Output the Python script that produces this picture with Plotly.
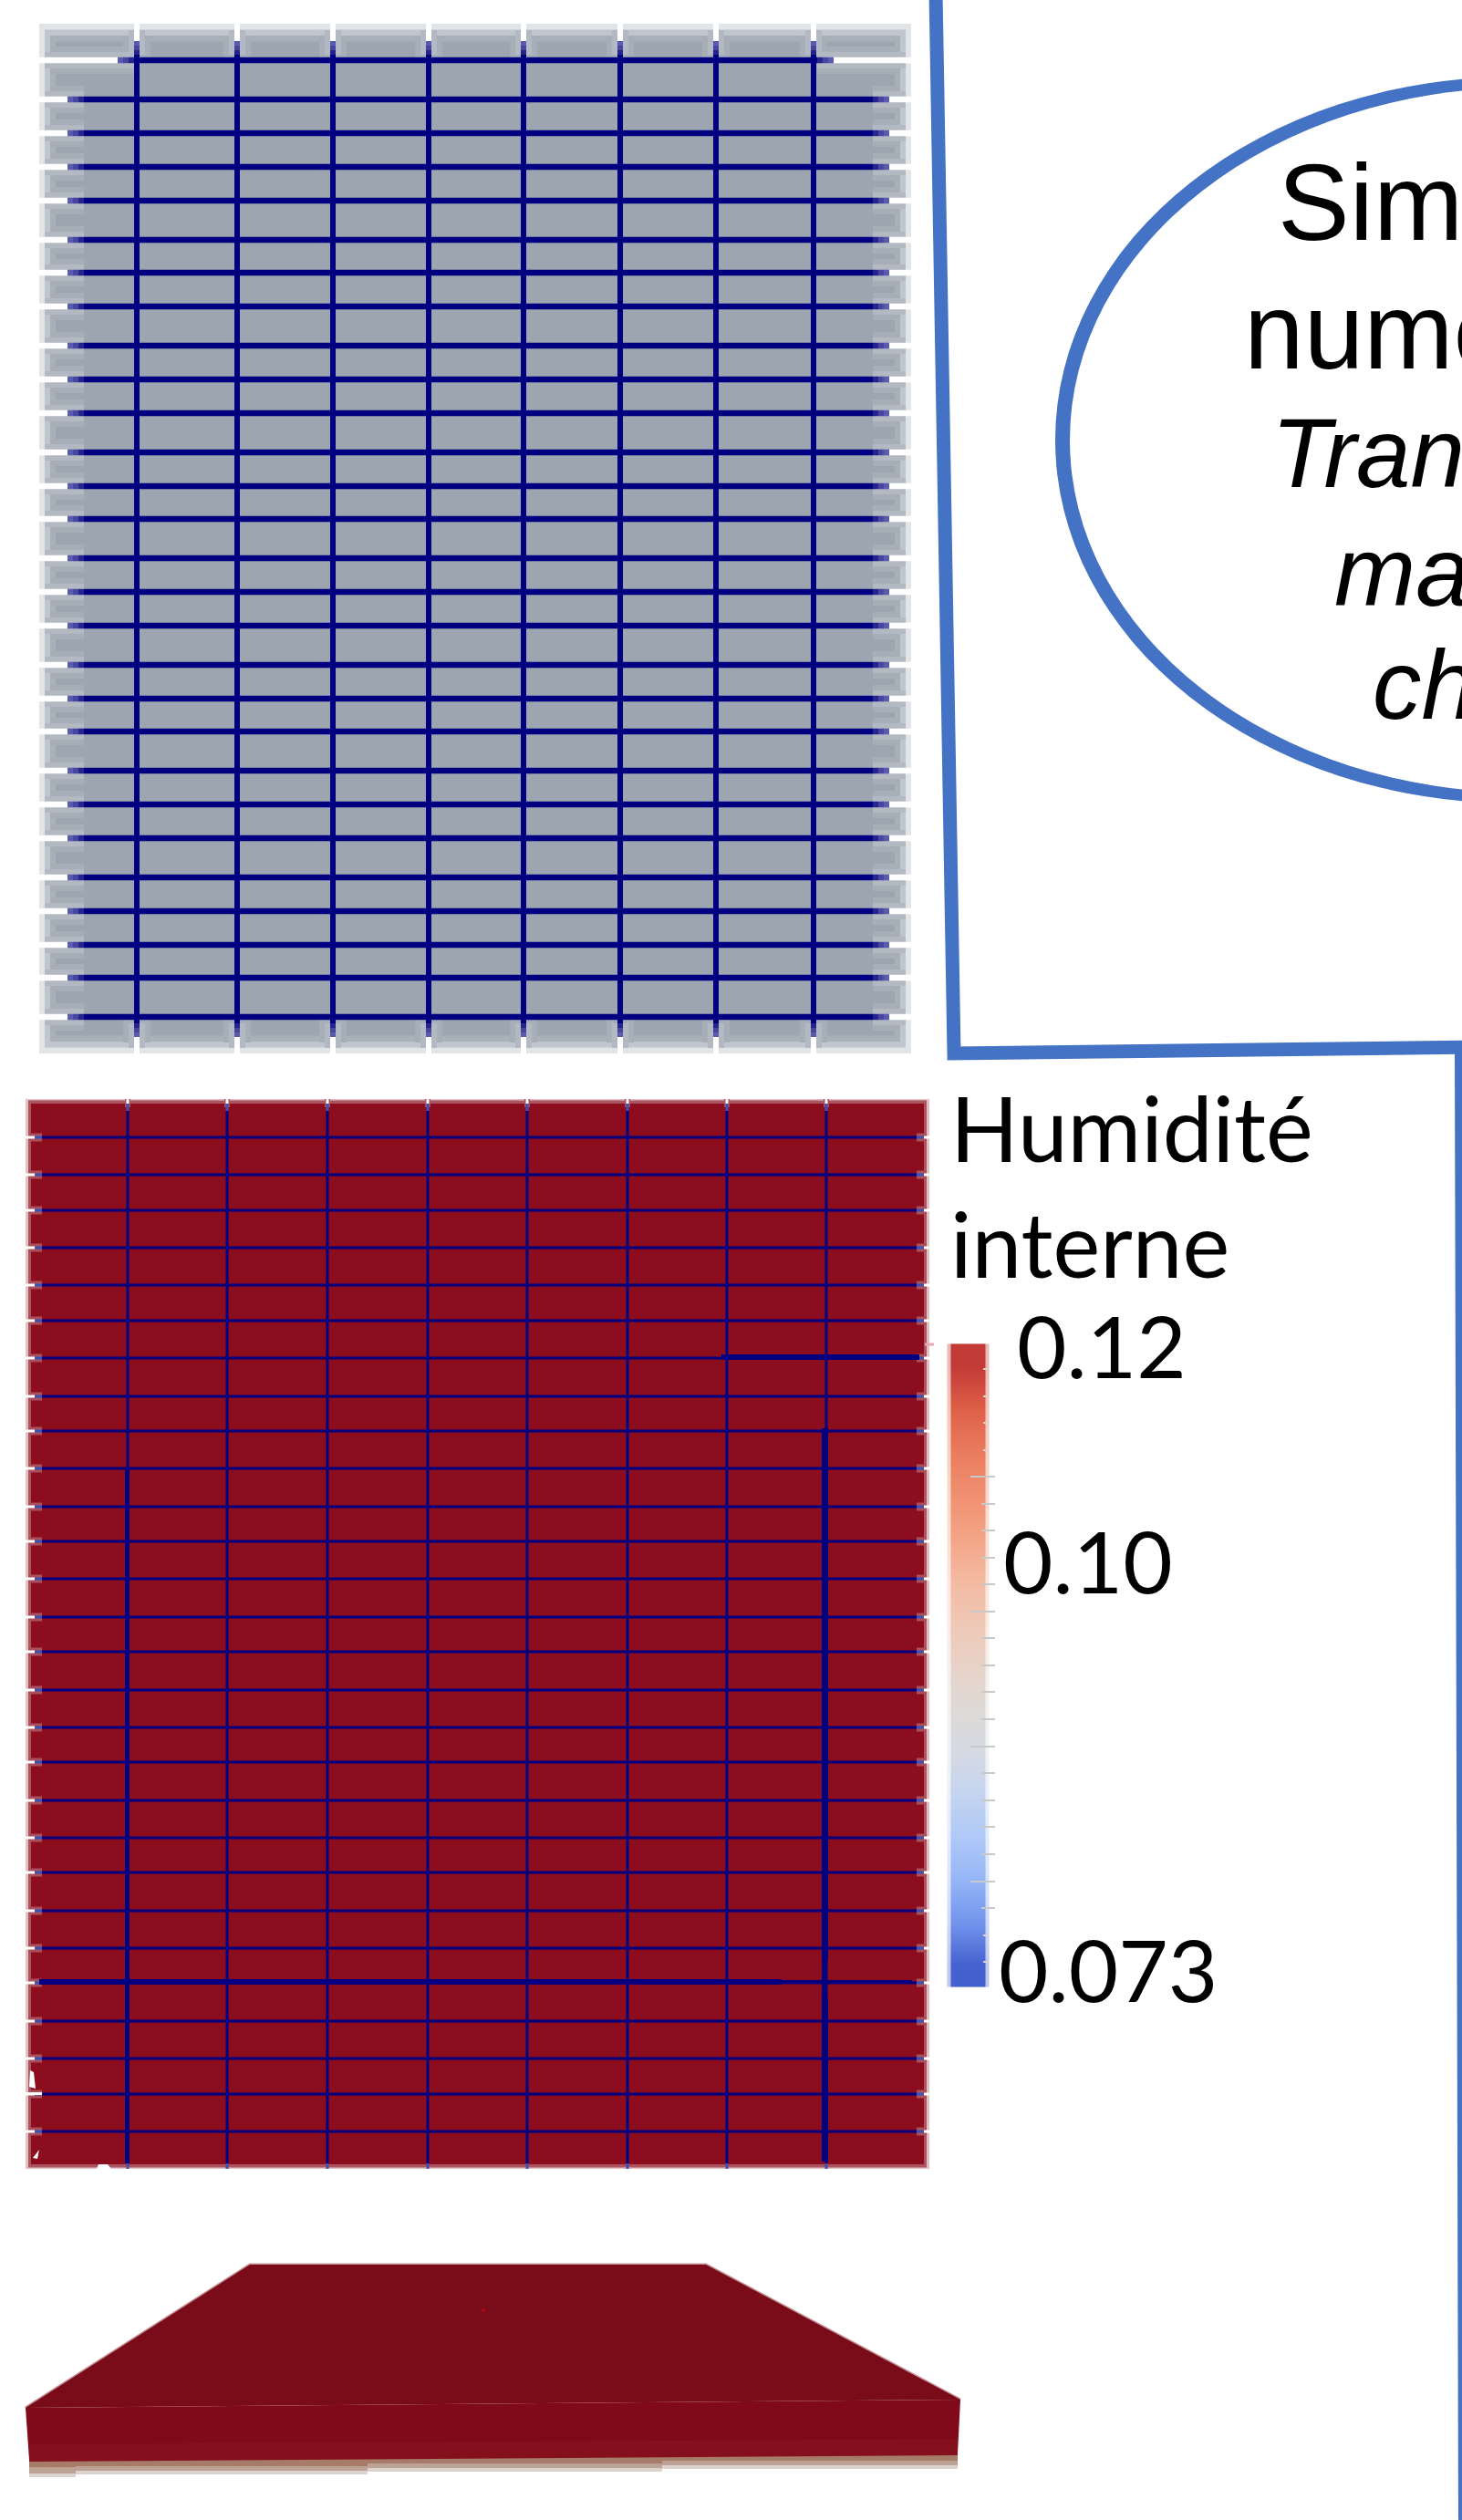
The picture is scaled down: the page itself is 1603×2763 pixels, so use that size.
import plotly.graph_objects as go

W, H = 1603, 2763
NAVY = "#000080"
BLUE = "#4472C4"

# ---- panel 1 (grey mesh) ----
p1_x = [43, 999]
p1_y = [26, 1155]
p1_vlines = [150, 260, 365, 470, 574, 680, 785, 892]
p1_hlines = [66, 109, 146, 183, 220, 263, 299, 336, 379, 416, 453, 496, 533, 569, 612,
             649, 686, 729, 766, 802, 845, 882, 919, 962, 999, 1036, 1072, 1115]
p1_left_end = [129] + [74] * 27
p1_right_start = [914] + [975] * 27
p1_layers = ["#E2E5E8", "#C0C6CD", "#A8B0B9", "#9DA6B0"]

# ---- panel 2 (red mesh) ----
p2_x = [28, 1019]
p2_y = [1205, 2378]
p2_vlines = [140, 249, 359, 469, 578, 688, 797, 906]
p2_hlines = [1247, 1288, 1327, 1368, 1409, 1448, 1489, 1531, 1569, 1610, 1652, 1690, 1731, 1773,
             1811, 1853, 1894, 1932, 1974, 2015, 2053, 2095, 2136, 2174, 2216, 2257, 2296, 2337]
p2_layers = ["#E3BFC4", "#AA5560", "#8C0D1E"]
p2_thick_h = [(791, 1008, 1488, 6), (43, 857, 2173, 6), (857, 1000, 2173, 4)]
p2_thick_v = [(139.5, 1611, 2372, 5), (904.5, 1566, 2149, 7), (903, 2149, 2191, 4), (904.5, 2191, 2370, 7)]
p2_specks_x = [[32, 39, 37, 33, 32], [28, 46, 46, 28], [36, 43, 41, 36], [106, 122, 118, 108]]
p2_specks_y = [[2288, 2290, 2272, 2270, 2288], [2294, 2294, 2297, 2297], [2366, 2357, 2367, 2366], [2378, 2378, 2373, 2373]]

# ---- colour bar ----
bar_x = [1052, 1071]
bar_halo_x = [1050, 1073]
bar_y = [1497, 1544, 1591, 1638, 1685, 1732, 1779, 1826, 1873, 1920, 1967, 2014, 2061, 2108, 2155]
bar_values = [.1183, .1152, .1120, .1088, .1057, .1025, .0994, .0962, .0931, .0899, .0868, .0836, .0805, .0773, .0742]
bar_colors = ["#C43A36", "#DE6048", "#EA7C60", "#F09070", "#F4A486", "#F4BAA2", "#EFC8B6", "#E8D2C8",
              "#DEDAD6", "#D6DAE4", "#C4D4F0", "#AFC8F7", "#95B5F6", "#7294EC", "#4560CF"]
bar_major = [1619, 1767, 1915, 2063]
bar_minor = [1649, 1678, 1708, 1737, 1796, 1826, 1855, 1885, 1944, 1974, 2003, 2033, 2092]
bar_stubs = [1501, 1531, 1560, 1590, 2122, 2151]
bar_labels = ["0.12", "0.10", "0.073"]
bar_label_x = [1113, 1098, 1093]
bar_label_y = [1474, 1710, 2158]

legend_title = ["Humidité", "interne"]
legend_title_x = [1040, 1040]
legend_title_y = [1236, 1363]

# ---- frame and ellipse ----
frame_x = [1026, 1046, 1620]
frame_y = [-10, 1155, 1148]
frame_right_x = [1601, 1605]
frame_right_y = [1148, 2770]
ellipse_outer = (1157, 84, 2165, 881)
ellipse_inner = (1173, 96, 2165, 869)

ell_lines = ["Simulation", "numérique", "Transferts de", "masse et", "chaleur"]
ell_x = [1399, 1362, 1392, 1461, 1503]
ell_y = [222, 363, 497, 627, 751]
ell_size = [118, 118, 107, 107, 107]
ell_italic = [False, False, True, True, True]

# ---- 3D slab ----
top_x = [28, 274, 774, 1053]
top_y = [2640, 2483, 2483, 2631]
front_x = [28, 1053, 1050, 32]
front_y = [2640, 2631, 2690, 2697]
lip_x = [32, 1050, 1050, 32]
lip_y = [2680, 2674, 2692, 2699]
band_x = [32, 83, 83, 403, 403, 726, 726, 1050, 1050, 32]
band_y = [2716, 2716, 2713, 2713, 2710, 2710, 2707, 2707, 2690, 2697]
band_mid_y = [2712, 2712, 2709, 2709, 2706, 2706, 2703, 2703, 2690, 2697]
band_top_y = [2705, 2705, 2704, 2704, 2701, 2701, 2698, 2698, 2690, 2697]
dot_x = [530]
dot_y = [2533]

fig = go.Figure()


def poly(xs, ys, color, line=None, lw=0):
    fig.add_trace(go.Scatter(x=xs, y=ys, mode="lines", fill="toself", fillcolor=color,
                             line=dict(color=line or color, width=lw), hoverinfo="skip", showlegend=False))


def rect(x0, y0, x1, y1, color):
    poly([x0, x1, x1, x0, x0], [y0, y0, y1, y1, y0], color)


def segs(items, color, width):
    xs, ys = [], []
    for (a, b, c, d) in items:
        xs += [a, b, None]
        ys += [c, d, None]
    fig.add_trace(go.Scatter(x=xs, y=ys, mode="lines", line=dict(color=color, width=width),
                             hoverinfo="skip", showlegend=False))


# colour bar as heatmaps
scale = [[(v - bar_values[-1]) / (bar_values[0] - bar_values[-1]), c] for v, c in zip(bar_values, bar_colors)]
scale = sorted(scale, key=lambda s: s[0])
for xs, op in ((bar_halo_x, 0.35), (bar_x, 1)):
    fig.add_trace(go.Heatmap(x=xs, y=bar_y, z=[[v, v] for v in bar_values], colorscale=scale,
                             zmin=bar_values[-1], zmax=bar_values[0], showscale=False, zsmooth="best",
                             opacity=op, hoverinfo="skip"))

# ---- panel 1 ----
for i, c in enumerate(p1_layers):
    rect(p1_x[0] + 6 * i, p1_y[0] + 6.5 * i, p1_x[1] - 6 * i, p1_y[1] - 6.5 * i, c)
segs([(55, e + 18, y, y) for y, e in zip(p1_hlines, p1_left_end)]
     + [(s - 18, 987, y, y) for y, s in zip(p1_hlines, p1_right_start)], "#A6AEB8", 30)
segs([(x, x, 39, 66) for x in p1_vlines] + [(x, x, 1116, 1143) for x in p1_vlines], "#A6AEB8", 30)
halo = "#B2B9C2"
segs([(49, e + 18, y, y) for y, e in zip(p1_hlines, p1_left_end)], halo, 18)
segs([(s - 18, 993, y, y) for y, s in zip(p1_hlines, p1_right_start)], halo, 18)
segs([(x, x, 33, 60) for x in p1_vlines] + [(x, x, 1122, 1149) for x in p1_vlines], halo, 18)
segs([(x, x, 60, 1122) for x in p1_vlines], NAVY, 6)
segs([(e + 18, s - 18, y, y) for y, e, s in zip(p1_hlines, p1_left_end, p1_right_start)], NAVY, 6.5)
for k, col in enumerate(["#5A5AAE", "#4646A0", "#24248C"]):
    segs([(e + 6 * k, e + 6 * k + 6, y, y) for y, e in zip(p1_hlines, p1_left_end)]
         + [(s - 6 * k - 6, s - 6 * k, y, y) for y, s in zip(p1_hlines, p1_right_start)], col, 6.5)
    segs([(x, x, 45 + 5 * k, 50 + 5 * k) for x in p1_vlines]
         + [(x, x, 1137 - 5 * k - 5, 1137 - 5 * k) for x in p1_vlines], col, 6)
segs([(p1_x[0] - 1, e, y, y) for y, e in zip(p1_hlines, p1_left_end)]
     + [(s, p1_x[1] + 1, y, y) for y, s in zip(p1_hlines, p1_right_start)], "#FFFFFF", 6.5)
segs([(x, x, p1_y[0] - 1, 45) for x in p1_vlines] + [(x, x, 1137, p1_y[1] + 1) for x in p1_vlines], "#FFFFFF", 6)

# ---- panel 2 ----
insets = [(0, 0), (3, 1.5), (6, 5)]
for (dx, dy), c in zip(insets, p2_layers):
    rect(p2_x[0] + dx, p2_y[0] + dy, p2_x[1] - dx, p2_y[1] - dy, c)
halo2 = "#A8505C"
segs([(31, 46, y, y) for y in p2_hlines] + [(1005, 1016, y, y) for y in p2_hlines], halo2, 9)
segs([(x, x, 1205, 1214) for x in p2_vlines], halo2, 6)
segs([(x, x, 1218, 2372) for x in p2_vlines], NAVY, 3)
segs([(46, 1005, y, y) for y in p2_hlines], NAVY, 3)
segs([(38, 46, y, y) for y in p2_hlines] + [(1005, 1013, y, y) for y in p2_hlines], "#3F50AE", 3)
segs([(x, x, 1210, 1218) for x in p2_vlines] + [(x, x, 2372, 2378) for x in p2_vlines], "#3F50AE", 3)
segs([(27, 38, y, y) for y in p2_hlines] + [(1013, 1020, y, y) for y in p2_hlines], "#FFFFFF", 3)
segs([(x, x, 1204, 1210) for x in p2_vlines], "#FFFFFF", 3)
for a, b, y, w in p2_thick_h:
    segs([(a, b, y, y)], NAVY, w)
for x, a, b, w in p2_thick_v:
    segs([(x, x, a, b)], NAVY, w)
for xs, ys in zip(p2_specks_x, p2_specks_y):
    poly(xs, ys, "#FFFFFF")
segs([(1014, 1024, 1474, 1474)], "#E8A6B2", 3)

# ---- colour bar ticks ----
segs([(1064, 1091, y, y) for y in bar_major] + [(1076, 1091, y, y) for y in bar_minor], "#C9C9C9", 2)
segs([(1078, 1083, y, y) for y in bar_stubs], "#E6CFC8", 2)

# ---- slab ----
poly(band_x, band_y, "#DDD3CE")
poly(band_x, band_mid_y, "#BBA294")
poly(band_x, band_top_y, "#A67B68")
poly(top_x, top_y, "#7A0B18", "rgba(122,11,24,0.45)", 3)
poly(front_x, front_y, "#800A1A")
poly(lip_x, lip_y, "#85101D")
fig.add_trace(go.Scatter(x=dot_x, y=dot_y, mode="markers", marker=dict(color="#D00010", size=3),
                         hoverinfo="skip", showlegend=False))

# ---- frame ----
fig.add_trace(go.Scatter(x=frame_x, y=frame_y, mode="lines", line=dict(color=BLUE, width=15),
                         hoverinfo="skip", showlegend=False))
fig.add_trace(go.Scatter(x=frame_right_x, y=frame_right_y, mode="lines", line=dict(color=BLUE, width=12),
                         hoverinfo="skip", showlegend=False))

# ---- text ----
annos = []
for t, x, y in zip(legend_title, legend_title_x, legend_title_y):
    annos.append(dict(x=x, y=y, text=t, showarrow=False, xanchor="left", yanchor="middle", xref="x", yref="y",
                      font=dict(family="Lato", size=98, color="#000000")))
for t, x, y in zip(bar_labels, bar_label_x, bar_label_y):
    annos.append(dict(x=x, y=y, text=t, showarrow=False, xanchor="left", yanchor="middle", xref="x", yref="y",
                      font=dict(family="Lato", size=94, color="#000000")))
for t, x, y, s, it in zip(ell_lines, ell_x, ell_y, ell_size, ell_italic):
    annos.append(dict(x=x, y=y, text=f"<i>{t}</i>" if it else t, showarrow=False, xanchor="left", yanchor="middle",
                      xref="x", yref="y", font=dict(family="Liberation Sans", size=s, color="#000000")))

shapes = []
for box, col in ((ellipse_outer, BLUE), (ellipse_inner, "#FFFFFF")):
    shapes.append(dict(type="circle", xref="x", yref="y", x0=box[0], y0=box[1], x1=box[2], y1=box[3],
                       fillcolor=col, line=dict(width=0), layer="above"))

fig.update_layout(
    width=W, height=H, margin=dict(l=0, r=0, t=0, b=0),
    paper_bgcolor="#FFFFFF", plot_bgcolor="#FFFFFF", showlegend=False,
    xaxis=dict(range=[0, W], visible=False, fixedrange=True),
    yaxis=dict(range=[H, 0], visible=False, fixedrange=True),
    annotations=annos,
    shapes=shapes,
)
fig.write_html("out.html", config={"displayModeBar": False},
               post_script="document.body.style.margin='0';document.body.style.overflow='hidden';")
